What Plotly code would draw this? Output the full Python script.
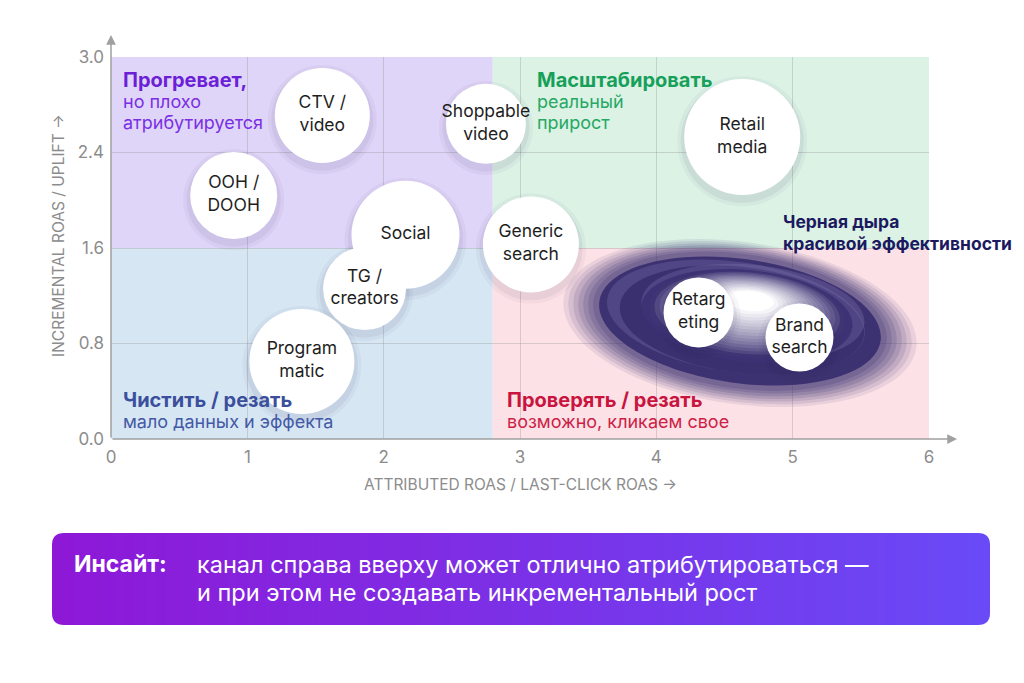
import math
import plotly.graph_objects as go

W, H = 1024, 683
SHIFT = 8  # page body margin pushes the figure 8px right and down

# channels on the ROAS matrix
channels = ["CTV /<br>video", "Shoppable<br>video", "OOH /<br>DOOH", "Social",
            "Generic<br>search", "TG /<br>creators", "Program<br>matic",
            "Retail<br>media", "Retarg<br>eting", "Brand<br>search"]
attributed_roas = [1.55, 2.75, 0.90, 2.16, 3.08, 1.86, 1.40, 4.63, 4.31, 5.05]
incremental_roas = [2.71, 2.64, 2.04, 1.71, 1.63, 1.26, 0.65, 2.53, 1.06, 0.85]
bubble_size = [95, 80, 87, 108, 96, 83, 105, 116, 70, 68]

x_tickvals = [0, 1, 2, 3, 4, 5, 6]
y_tickvals = [0, 0.8, 1.6, 2.4, 3.2]
y_ticktext = ["0.0", "0.8", "1.6", "2.4", "3.0"]

X_SPLIT, Y_SPLIT = 2.8, 1.6
X_MAX, Y_MAX = 6, 3.2

# plot area in screen pixels
PL, PR, PT, PB = 111, 929, 57, 439

FONT = "Inter"
GREY = "#8c8c8c"


def px_x(p):
    return (p - SHIFT) / W


def px_y(p):
    return 1 - (p - SHIFT) / H


def dx(p):
    return (p - PL) / (PR - PL) * X_MAX


def dy(p):
    return (PB - p) / (PB - PT) * Y_MAX


fig = go.Figure()

# soft shadows behind bubbles
for extra, alpha in [(14, 0.04), (7, 0.06)]:
    fig.add_trace(go.Scatter(
        x=attributed_roas, y=[v - 0.035 for v in incremental_roas],
        mode="markers", hoverinfo="skip", showlegend=False,
        marker=dict(size=[s + extra for s in bubble_size], sizemode="diameter",
                    color=f"rgba(40,30,80,{alpha})", opacity=1, line_width=0),
        cliponaxis=False,
    ))

fig.add_trace(go.Scatter(
    x=attributed_roas, y=incremental_roas, text=channels,
    mode="markers+text", textposition="middle center",
    textfont=dict(family=FONT, size=17.5, color="#1e1e1e"),
    marker=dict(size=bubble_size, sizemode="diameter", color="white", opacity=1,
                line_width=0),
    showlegend=False, cliponaxis=False,
))

shapes = []
quadrants = [
    (0, X_SPLIT, Y_SPLIT, Y_MAX, "#dfd5f8"),
    (X_SPLIT, X_MAX, Y_SPLIT, Y_MAX, "#dbf2e5"),
    (0, X_SPLIT, 0, Y_SPLIT, "#d6e6f3"),
    (X_SPLIT, X_MAX, 0, Y_SPLIT, "#fce1e6"),
]
for x0, x1, y0, y1, c in quadrants:
    shapes.append(dict(type="rect", xref="x", yref="y", x0=x0, x1=x1, y0=y0, y1=y1,
                       fillcolor=c, line_width=0, layer="below"))


def ellipse_path(cx, cy, rx, ry, deg):
    """Rotated ellipse (screen px) as a bezier path in data coordinates."""
    k = 0.5523
    t = math.radians(deg)
    ux, uy = math.cos(t), math.sin(t)
    vx, vy = -math.sin(t), math.cos(t)

    def pt(a, b):
        return f"{dx(cx + a * ux + b * vx):.4f},{dy(cy + a * uy + b * vy):.4f}"

    return (f"M{pt(rx, 0)} C{pt(rx, k * ry)} {pt(k * rx, ry)} {pt(0, ry)} "
            f"C{pt(-k * rx, ry)} {pt(-rx, k * ry)} {pt(-rx, 0)} "
            f"C{pt(-rx, -k * ry)} {pt(-k * rx, -ry)} {pt(0, -ry)} "
            f"C{pt(k * rx, -ry)} {pt(rx, -k * ry)} {pt(rx, 0)} Z")


# "black hole" swirl: (cx, cy, rx, ry, angle, colour, opacity) in screen px
DARK = (56, 46, 110)
hole = []
for i in range(7):
    hole.append((740, 323 - i * 0.3, 178 - 5 * i, 81 - 2.3 * i, 8, DARK, 0.09 + 0.02 * i))
hole += [
    (740, 321, 142, 62, 8, DARK, 0.92),
    (736, 317, 130, 55, 8, (128, 118, 178), 0.30),
    (742, 320, 123, 53, 7, DARK, 0.92),
    (753, 312, 112, 47, 6, (140, 130, 185), 0.28),
    (747, 316, 106, 46, 6, (60, 50, 115), 0.92),
]
steps = 16
for i in range(steps):
    t = i / (steps - 1)
    col = tuple(round(a + (255 - a) * t ** 0.8) for a in (64, 54, 118))
    hole.append((747 + 3 * t, 314 - 13 * t, 98 - 74 * t, 43 - 33 * t, 5,
                 col, 0.8 + 0.2 * t))
for cx, cy, rx, ry, ang, col, op in hole:
    shapes.append(dict(type="path", xref="x", yref="y",
                       path=ellipse_path(cx, cy, rx, ry, ang),
                       fillcolor="rgb(%d,%d,%d)" % col, opacity=op, line_width=0,
                       layer="between"))

# insight box with horizontal gradient
bx0, bx1, by0, by1, r = 52, 990, 533, 625, 12
c_left, c_right = (141, 25, 215), (106, 73, 246)


def mix(t):
    return "rgb(%d,%d,%d)" % tuple(round(a + (b - a) * t) for a, b in zip(c_left, c_right))


def cap_path(xa, xb, rounded_left):
    ya, yb = px_y(by0), px_y(by1)
    rx, ry = r / W, r / H
    if rounded_left:
        return (f"M{xb},{ya} L{xa + rx},{ya} Q{xa},{ya} {xa},{ya - ry} "
                f"L{xa},{yb + ry} Q{xa},{yb} {xa + rx},{yb} L{xb},{yb} Z")
    return (f"M{xa},{ya} L{xb - rx},{ya} Q{xb},{ya} {xb},{ya - ry} "
            f"L{xb},{yb + ry} Q{xb},{yb} {xb - rx},{yb} L{xa},{yb} Z")


shapes.append(dict(type="path", xref="paper", yref="paper",
                   path=cap_path(px_x(bx0), px_x(bx0 + r + 2), True),
                   fillcolor=mix(0), line_width=0))
shapes.append(dict(type="path", xref="paper", yref="paper",
                   path=cap_path(px_x(bx1 - r - 2), px_x(bx1), False),
                   fillcolor=mix(1), line_width=0))
n = 90
span = (bx1 - bx0 - 2 * r)
for i in range(n):
    xa = bx0 + r + span * i / n
    xb = bx0 + r + span * (i + 1) / n + 0.8
    shapes.append(dict(type="rect", xref="paper", yref="paper",
                       x0=px_x(xa), x1=px_x(min(xb, bx1 - r)), y0=px_y(by1), y1=px_y(by0),
                       fillcolor=mix((i + 0.5) / n), line_width=0))

annotations = []
labels = [
    ("Прогревает,", 121, 80, "#6b1fd6", True, 20),
    ("но плохо", 121, 102, "#7b2fe3", False, 18),
    ("атрибутируется", 121, 123, "#7b2fe3", False, 18),
    ("Масштабировать", 535, 80, "#17a05a", True, 20),
    ("реальный", 535, 102, "#27a864", False, 18),
    ("прирост", 535, 123, "#27a864", False, 18),
    ("Чистить / резать", 121, 400, "#3b4f9d", True, 20),
    ("мало данных и эффекта", 121, 421, "#4459a6", False, 18),
    ("Проверять / резать", 505, 400, "#c8143e", True, 20),
    ("возможно, кликаем свое", 505, 421, "#cc1f47", False, 18),
    ("Черная дыра", 781, 222, "#1c1960", True, 17.5),
    ("красивой эффективности", 781, 243, "#1c1960", True, 17.5),
]
for text, x, y, c, bold, size in labels:
    annotations.append(dict(
        text=f"<b>{text}</b>" if bold else text, x=px_x(x), y=px_y(y),
        xref="paper", yref="paper", xanchor="left", yanchor="middle", showarrow=False,
        font=dict(family=FONT, size=size, color=c)))

annotations.append(dict(text="ATTRIBUTED ROAS / LAST-CLICK ROAS →", x=px_x(520), y=px_y(484),
                        xref="paper", yref="paper", xanchor="center", yanchor="middle",
                        showarrow=False, font=dict(family=FONT, size=15.5, color=GREY)))
annotations.append(dict(text="INCREMENTAL ROAS / UPLIFT →", x=px_x(58), y=px_y(236),
                        xref="paper", yref="paper", xanchor="center", yanchor="middle",
                        showarrow=False, textangle=-90,
                        font=dict(family=FONT, size=15.5, color=GREY)))

# axis arrows
annotations.append(dict(x=px_x(957), y=px_y(439), xref="paper", yref="paper", text="",
                        showarrow=True, ax=-(957 - PL), ay=0, arrowhead=2, arrowsize=1.3,
                        arrowwidth=1.5, arrowcolor="#a0a0a0"))
annotations.append(dict(x=px_x(PL), y=px_y(35), xref="paper", yref="paper", text="",
                        showarrow=True, ax=0, ay=PB - 35, arrowhead=2, arrowsize=1.3,
                        arrowwidth=1.5, arrowcolor="#a0a0a0"))

# insight text
annotations.append(dict(text="<b>Инсайт:</b>", x=px_x(72), y=px_y(564), xref="paper", yref="paper",
                        xanchor="left", yanchor="middle", showarrow=False,
                        font=dict(family=FONT, size=23, color="white")))
for txt, y in [("канал справа вверху может отлично атрибутироваться —", 564),
               ("и при этом не создавать инкрементальный рост", 592)]:
    annotations.append(dict(text=txt, x=px_x(195), y=px_y(y), xref="paper", yref="paper",
                            xanchor="left", yanchor="middle", showarrow=False,
                            font=dict(family=FONT, size=23.5, color="white")))

fig.update_layout(
    width=W, height=H, autosize=False,
    margin=dict(l=0, r=0, t=0, b=0, pad=0, autoexpand=False),
    paper_bgcolor="white", plot_bgcolor="white",
    font=dict(family=FONT),
    shapes=shapes, annotations=annotations,
    xaxis=dict(domain=[px_x(PL), px_x(PR)], range=[0, X_MAX], tickvals=x_tickvals,
               showgrid=True, gridcolor="rgba(150,150,150,0.35)", gridwidth=1,
               zeroline=False, showline=False, ticks="", automargin=False,
               ticklabelstandoff=6,
               tickfont=dict(family=FONT, size=17, color=GREY)),
    yaxis=dict(domain=[px_y(PB), px_y(PT)], range=[0, Y_MAX], tickvals=y_tickvals,
               ticktext=y_ticktext, showgrid=True, gridcolor="rgba(150,150,150,0.35)",
               gridwidth=1, zeroline=False, showline=False, ticks="", automargin=False,
               ticklabelstandoff=6,
               tickfont=dict(family=FONT, size=17, color=GREY)),
)

fig.write_html("out.html")
